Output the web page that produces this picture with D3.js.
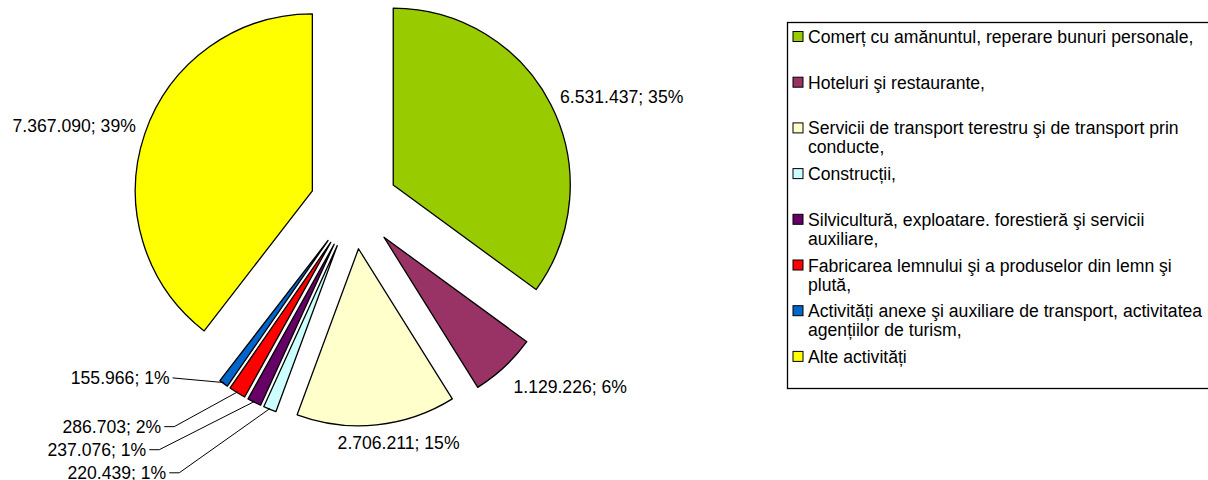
<!DOCTYPE html>
<html>
<head>
  <meta charset="utf-8">
  <script src="https://d3js.org/d3.v7.min.js"></script>
  <style>
    body { margin: 0; background: #fff; }
    text { font-family: Arial, "Liberation Sans", sans-serif; font-size: 17.6px; fill: #000; }
  </style>
</head>
<body>
  <svg id="chart" width="1208" height="480"></svg>
  <script>
    // data, in the order the slices are drawn (clockwise from 12 o'clock)
    const categories = [
      "Comerț cu amănuntul, reperare bunuri personale,",
      "Hoteluri şi restaurante,",
      "Servicii de transport terestru şi de transport prin conducte,",
      "Construcții,",
      "Silvicultură, exploatare. forestieră şi servicii auxiliare,",
      "Fabricarea lemnului şi a produselor din lemn şi plută,",
      "Activități anexe şi auxiliare de transport, activitatea agențiilor de turism,",
      "Alte activități"
    ];
    const values = [6531437, 1129226, 2706211, 220439, 237076, 286703, 155966, 7367090];
    const valueLabels = ["6.531.437", "1.129.226", "2.706.211", "220.439", "237.076", "286.703", "155.966", "7.367.090"];
    const percentLabels = ["35%", "6%", "15%", "1%", "1%", "2%", "1%", "39%"];
    // legend text broken the way the original wraps it
    const legendLines = [
      ["Comerț cu amănuntul, reperare bunuri personale,"],
      ["Hoteluri şi restaurante,"],
      ["Servicii de transport terestru şi de transport prin", "conducte,"],
      ["Construcții,"],
      ["Silvicultură, exploatare. forestieră şi servicii", "auxiliare,"],
      ["Fabricarea lemnului şi a produselor din lemn şi", "plută,"],
      ["Activități anexe şi auxiliare de transport, activitatea", "agențiilor de turism,"],
      ["Alte activități"]
    ];
    const colors = ["#99CC00", "#993366", "#FFFFCC", "#CCFFFF", "#660066", "#FF0000", "#0066CC", "#FFFF00"];

    const svg = d3.select("#chart");

    // pie geometry
    const cx = 354, cy = 205;
    const radius = 177;
    const explode = 44;

    // label placement: nudge from the outer arc point at the slice middle
    // [dx, dy, anchor, leader elbow length or null]
    const labelLayout = [
      [9, -2, "start", null],
      [9, 26, "start", null],
      [22, 24, "middle", null],
      [-103.5, 63.5, "end", 10],
      [-108, 47.5, "end", 10],
      [-76, 34, "end", 10],
      [-54, -5.5, "end", 0],
      [-9, -2, "end", null]
    ];

    const pie = d3.pie().sort(null).value(d => d);
    const arcs = pie(values);
    const arc = d3.arc().innerRadius(0).outerRadius(radius);

    const dirOf = a => [Math.sin(a), -Math.cos(a)];

    const g = svg.append("g").attr("transform", "translate(" + cx + "," + cy + ")");

    g.selectAll("path")
      .data(arcs)
      .enter()
      .append("path")
      .attr("d", arc)
      .attr("transform", d => {
        const m = (d.startAngle + d.endAngle) / 2;
        const [dx, dy] = dirOf(m);
        return "translate(" + dx * explode + "," + dy * explode + ")";
      })
      .attr("fill", (d, i) => colors[i])
      .attr("stroke", "#000")
      .attr("stroke-width", 1.3)
      .attr("stroke-linejoin", "round");

    // data labels
    arcs.forEach((d, i) => {
      const m = (d.startAngle + d.endAngle) / 2;
      const [ux, uy] = dirOf(m);
      const px = ux * (explode + radius);
      const py = uy * (explode + radius);
      const [nx, ny, anchor, elbow] = labelLayout[i];
      const txt = valueLabels[i] + "; " + percentLabels[i];
      if (elbow !== null) {
        // ny is the vertical middle of the label
        const lx = px + nx, ly = py + ny;
        g.append("text")
          .attr("x", lx)
          .attr("y", ly + 6.3)
          .attr("text-anchor", anchor)
          .text(txt);
        g.append("polyline")
          .attr("points", [[lx + 3, ly], [lx + 3 + elbow, ly], [px - ux, py - uy]].map(p => p.join(",")).join(" "))
          .attr("fill", "none")
          .attr("stroke", "#000")
          .attr("stroke-width", 1);
      } else {
        g.append("text")
          .attr("x", px + nx)
          .attr("y", py + ny)
          .attr("text-anchor", anchor)
          .text(txt);
      }
    });

    // legend
    const legend = svg.append("g").attr("transform", "translate(787,22)");
    legend.append("rect")
      .attr("x", 0.5)
      .attr("y", 0.5)
      .attr("width", 460)
      .attr("height", 366)
      .attr("fill", "#fff")
      .attr("stroke", "#000")
      .attr("stroke-width", 1.3);

    const itemStep = 45.7;
    const items = legend.selectAll("g.item")
      .data(categories)
      .enter()
      .append("g")
      .attr("class", "item")
      .attr("transform", (d, i) => "translate(0," + (21 + i * itemStep) + ")");

    items.append("rect")
      .attr("x", 6)
      .attr("y", -11.5)
      .attr("width", 10)
      .attr("height", 10)
      .attr("fill", (d, i) => colors[i])
      .attr("stroke", "#000")
      .attr("stroke-width", 1);

    items.each(function (d, i) {
      d3.select(this).selectAll("text")
        .data(legendLines[i])
        .enter()
        .append("text")
        .attr("x", 21)
        .attr("y", (l, j) => j * 19)
        .text(l => l);
    });
  </script>
</body>
</html>
